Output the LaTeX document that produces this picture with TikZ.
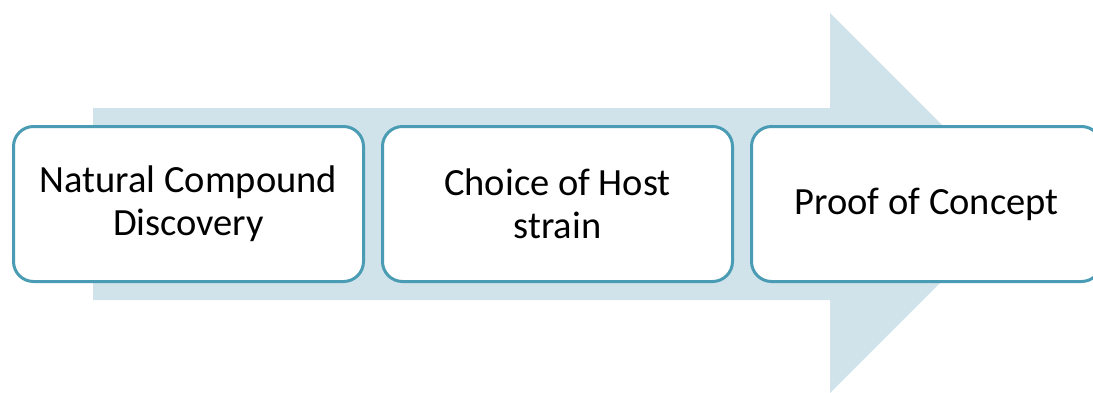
\documentclass[tikz,border=0pt]{standalone}
\usepackage{fontspec}
\setmainfont{Carlito}
\definecolor{arrowc}{HTML}{D0E3EA}
\definecolor{boxc}{HTML}{4A9BB4}
\tikzset{
  stagebox/.style={rectangle, rounded corners=20pt, draw=boxc, line width=3pt, fill=white,
    minimum width=350pt, minimum height=155pt, align=center, inner sep=0pt,
    font=\fontsize{38.5}{43}\selectfont}
}
\begin{document}
\begin{tikzpicture}[x=1pt,y=-1pt]
\useasboundingbox (0,0) rectangle (1093,392);
\fill[arrowc] (93,108) -- (830,108) -- (830,13) -- (1020,203) -- (830,393) -- (830,300) -- (93,300) -- cycle;
\node[stagebox] (a) at (188.5,204) {Natural Compound\\Discovery};
\node[stagebox] (b) at (557.5,204) {Choice of Host\\strain};
\node[stagebox] (c) at (926.5,204) {Proof of Concept};
\end{tikzpicture}
\end{document}
